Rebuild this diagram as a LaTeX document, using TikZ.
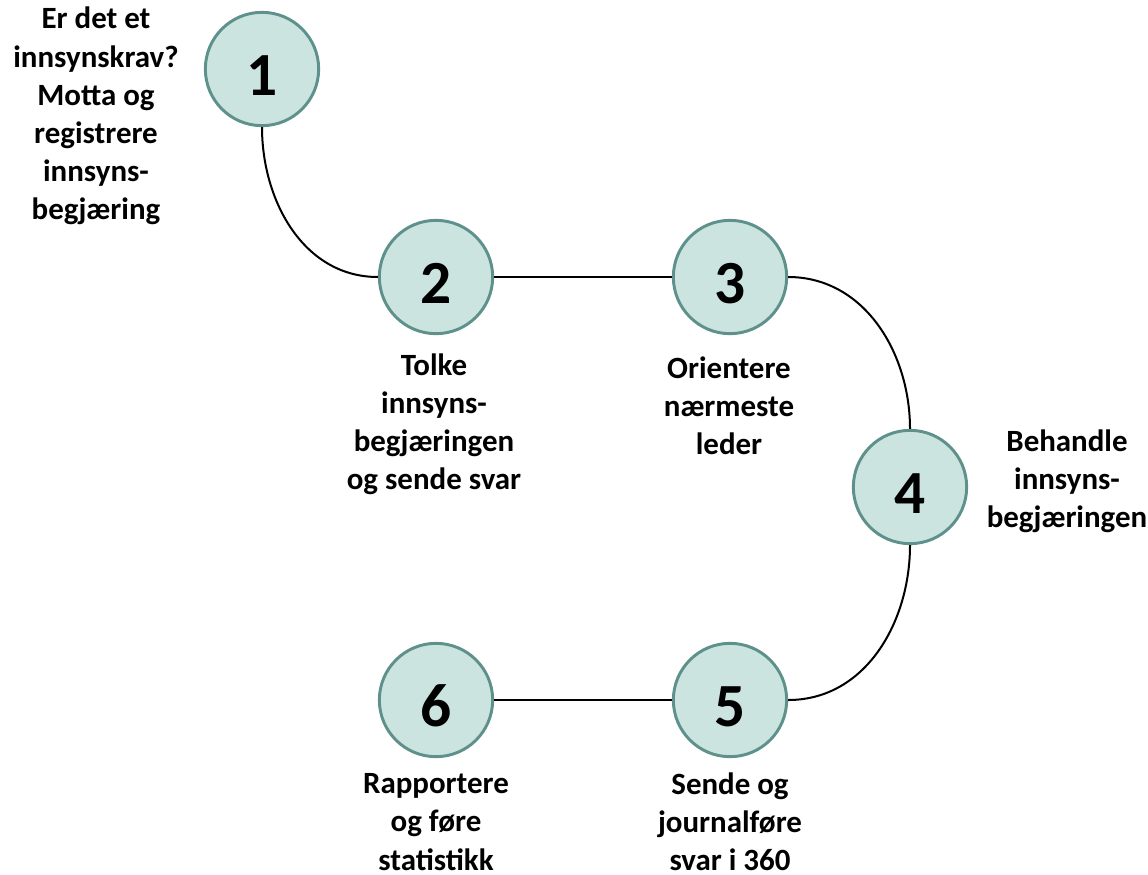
\documentclass[tikz,border=0pt]{standalone}
\usepackage{fontspec}
\setmainfont{Carlito}
\usetikzlibrary{positioning}

\begin{document}
\begin{tikzpicture}[x=0.75pt, y=-0.75pt]
        % ================= styles =================
        % step circles: teal ring, pale fill, big number
        \tikzset{
            stepdot/.style={circle, draw=ringteal, line width=2.2pt, fill=dotfill,
                minimum size=85pt, inner sep=0pt, text height=40pt, text depth=0pt,
                font=\fontsize{46}{46}\bfseries\selectfont},
            steptext/.style={align=center, inner sep=0pt, font=\fontsize{23.2}{28.6}\bfseries\selectfont},
            link/.style={draw=black, line width=1.5pt}
        }
        \definecolor{ringteal}{HTML}{5E918B}
        \definecolor{dotfill}{HTML}{CCE4E0}

        \useasboundingbox (0,0) rectangle (1148,874);

        % ================= circles =================
        \node[stepdot] (c1) at (262, 69) {1};
        \node[stepdot] (c2) at (436, 277) {2};
        \node[stepdot] (c3) at (730, 277) {3};
        \node[stepdot] (c4) at (910, 487) {4};
        \node[stepdot] (c5) at (730, 700) {5};
        \node[stepdot] (c6) at (436, 700) {6};

        % ================= texts =================
        \node[steptext] (t1) at (96, 116) {Er det et\\innsynskrav?\\Motta og\\registrere\\innsyns-\\begjæring};
        \node[steptext] (t2) at (434, 424) {Tolke\\innsyns-\\begjæringen\\og sende svar};
        \node[steptext] (t3) at (729, 406) {Orientere\\nærmeste\\leder};
        \node[steptext] (t4) at (1067, 481) {Behandle\\innsyns-\\begjæringen};
        \node[steptext] (t5) at (730, 822) {Sende og\\journalføre\\svar i 360};
        \node[steptext] (t6) at (436, 822) {Rapportere\\og føre\\statistikk};

        % ================= connectors =================
        \draw[link] (c1.south) to[out=-90, in=180] (c2.west);
        \draw[link] (c2.east) -- (c3.west);
        \draw[link] (c3.east) to[out=0, in=90] (c4.north);
        \draw[link] (c4.south) to[out=-90, in=0] (c5.east);
        \draw[link] (c6.east) -- (c5.west);

    \end{tikzpicture}
\end{document}
